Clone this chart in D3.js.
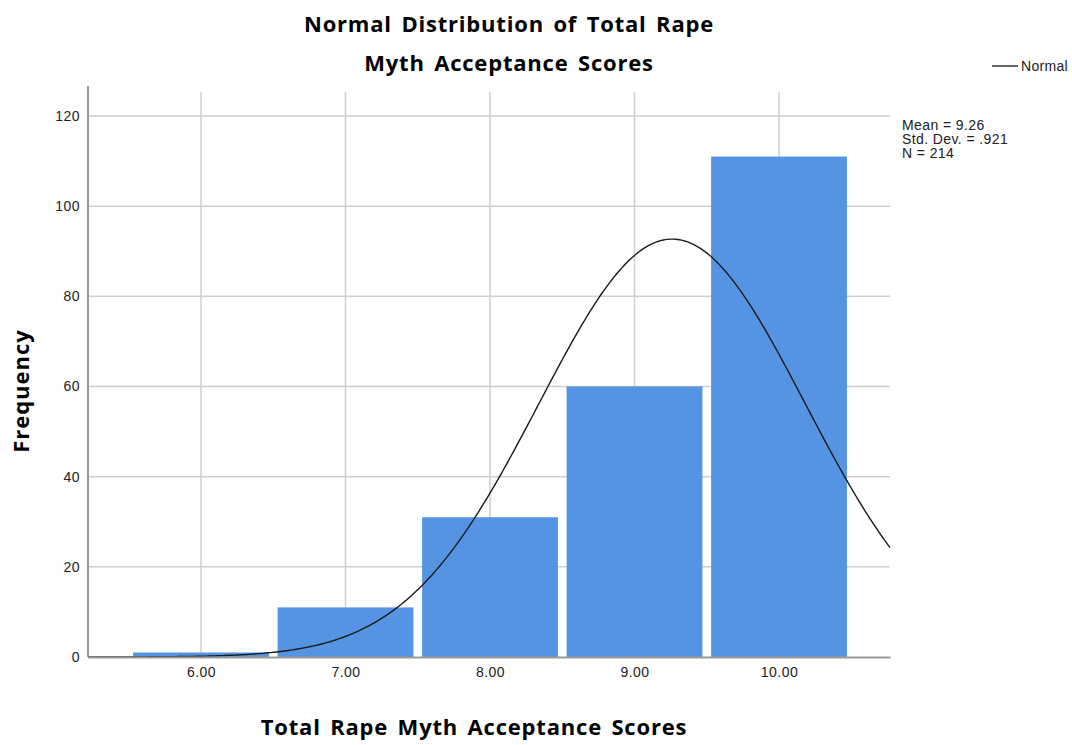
<!DOCTYPE html>
<html><head><meta charset="utf-8">
<script src="https://cdn.jsdelivr.net/npm/d3@7"></script>
<style>body{margin:0;background:#fff}svg{display:block}</style>
</head><body>
<svg id="c" width="1072" height="745"></svg>
<script>
const categories = [6, 7, 8, 9, 10];
const frequencies = [1, 11, 31, 60, 111];
const xTicks = [6, 7, 8, 9, 10];
const xTickLabels = ["6.00", "7.00", "8.00", "9.00", "10.00"];
const yTicks = [0, 20, 40, 60, 80, 100, 120];
const mean = 9.26, sd = 0.921, n = 214, binWidth = 1;
const statLines = ["Mean = 9.26", "Std. Dev. = .921", "N = 214"];

const svg = d3.select("#c");
const L = 88, R = 890, T = 88, B = 657;
const x = d3.scaleLinear().domain([5.218, 10.768]).range([L, R]);
const y = d3.scaleLinear().domain([0, 120]).range([B, 116]);

// gridlines
svg.append("g").selectAll("line").data(xTicks).join("line")
  .attr("x1", d => x(d)).attr("x2", d => x(d)).attr("y1", 92).attr("y2", B)
  .attr("stroke", "#cfcfcf").attr("stroke-width", 1.5);
svg.append("g").selectAll("line").data(yTicks.filter(d => d > 0)).join("line")
  .attr("x1", L).attr("x2", R).attr("y1", d => y(d)).attr("y2", d => y(d))
  .attr("stroke", "#cfcfcf").attr("stroke-width", 1.5);

// bars
const bw = 0.94;
svg.append("g").selectAll("rect").data(categories).join("rect")
  .attr("x", (d) => x(d - bw / 2)).attr("width", x(bw) - x(0))
  .attr("y", (d, i) => y(frequencies[i])).attr("height", (d, i) => B - y(frequencies[i]))
  .attr("fill", "#5594e3");

// normal curve
const pts = d3.range(0, 401).map(i => 5.218 + (10.768 - 5.218) * i / 400);
const pdf = v => n * binWidth * Math.exp(-0.5 * ((v - mean) / sd) ** 2) / (sd * Math.sqrt(2 * Math.PI));
svg.append("path").datum(pts)
  .attr("d", d3.line().x(d => x(d)).y(d => y(pdf(d))))
  .attr("fill", "none").attr("stroke", "#1a1a1a").attr("stroke-width", 1.4);

// axes
const xAxis = svg.append("g").attr("transform", `translate(0,${B})`)
  .call(d3.axisBottom(x).tickValues(xTicks).tickFormat((d, i) => xTickLabels[i]).tickSize(0).tickPadding(10));
xAxis.select(".domain").attr("stroke", "#999").attr("stroke-width", 2);
const yAxis = svg.append("g").attr("transform", `translate(${L},0)`)
  .call(d3.axisLeft(y).tickValues(yTicks).tickSize(0).tickPadding(8));
yAxis.select(".domain").attr("stroke", "#999").attr("stroke-width", 2).attr("d", `M0,86V${B}`);
svg.selectAll(".tick text").attr("font-family", "Liberation Sans, Arial, sans-serif")
  .attr("font-size", 14).attr("letter-spacing", 0.5).attr("fill", "#222");

// titles
const tf = "'Open Sans', Lato, sans-serif";
const title = (xp, yp, s, t) => svg.append("text").attr("x", xp).attr("y", yp).attr("text-anchor", "middle")
  .attr("font-family", tf).attr("font-weight", "bold").attr("font-size", s)
  .attr("word-spacing", 3).attr("letter-spacing", 0.8).text(t);
title(509, 32, 22, "Normal Distribution of Total Rape");
title(509, 71, 22, "Myth Acceptance Scores");
title(474, 735, 22, "Total Rape Myth Acceptance Scores");
svg.append("text").attr("transform", "translate(29,391) rotate(-90)").attr("text-anchor", "middle")
  .attr("font-family", tf).attr("font-weight", "bold").attr("font-size", 22).attr("letter-spacing", 1).text("Frequency");

// legend
svg.append("line").attr("x1", 992).attr("x2", 1018).attr("y1", 66).attr("y2", 66)
  .attr("stroke", "#222").attr("stroke-width", 1.4);
svg.append("text").attr("x", 1021).attr("y", 71).attr("font-family", "Liberation Sans, Arial, sans-serif")
  .attr("font-size", 14).attr("letter-spacing", 0.3).attr("fill", "#222").text("Normal");

// stats
svg.append("g").selectAll("text").data(statLines).join("text")
  .attr("x", 902).attr("y", (d, i) => 130 + i * 14)
  .attr("font-family", "Liberation Sans, Arial, sans-serif").attr("font-size", 14).attr("letter-spacing", 0.4).attr("fill", "#222")
  .text(d => d);
</script>
</body></html>
